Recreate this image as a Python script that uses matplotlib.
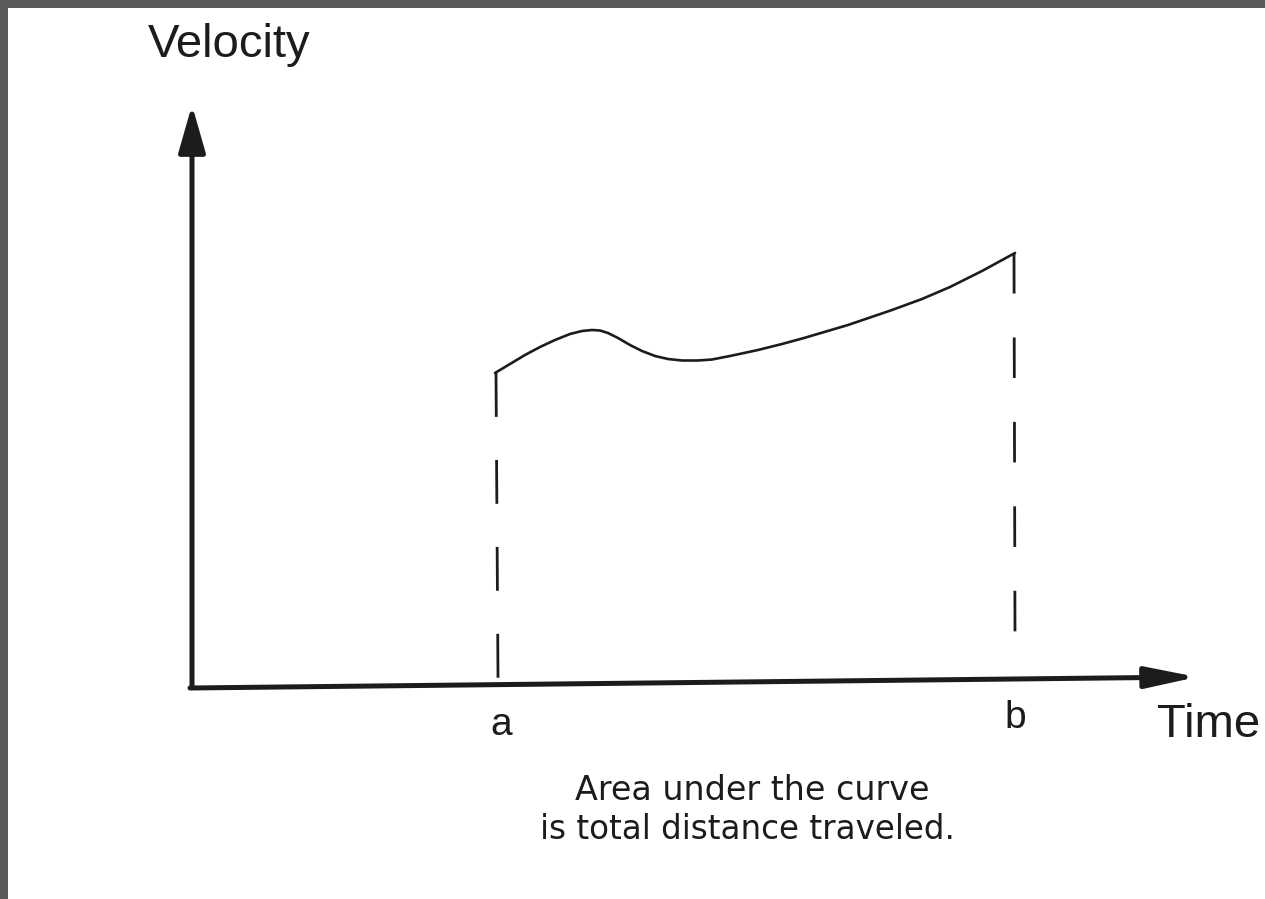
import matplotlib
matplotlib.use("Agg")
import matplotlib.pyplot as plt
from matplotlib.patches import Rectangle

# ---- data (time units / velocity units, origin at the axes corner) ----
time = [303, 318, 333, 348, 363, 378, 390, 400, 408, 416, 426, 438, 450,
        463, 476, 490, 506, 520, 538, 566, 590, 612, 656, 700, 730, 758,
        790, 823]
velocity = [315, 324, 333, 341, 348, 354, 357, 358, 357.5, 355, 350, 343,
            337, 332, 329, 327.5, 327.5, 328.5, 332, 338, 344, 350, 363, 378,
            389, 401, 417, 435]
t_a, t_b = 304, 822
v_a_end, v_b_end = 10, 50
axis_x_end = (1005, 11)
axis_y_end = (0, 583)
label_a, label_b = "a", "b"
x_label, y_label = "Time", "Velocity"
caption = ["Area under the curve", "is total distance traveled."]

ink = "#1c1c1c"
font = ["Liberation Sans", "DejaVu Sans"]

fig = plt.figure(figsize=(12.65, 8.99), dpi=100)
fig.patch.set_facecolor("white")
ax = fig.add_axes([0, 0, 1, 1])
ax.set_xlim(-192, 1073)
ax.set_ylim(-211, 688)
ax.axis("off")

# gray scan border (top and left)
fig.patches.append(Rectangle((0, 1 - 8 / 899), 1, 8 / 899, transform=fig.transFigure,
                             facecolor="#5a5a5a", edgecolor="none", zorder=10))
fig.patches.append(Rectangle((0, 0), 8 / 1265, 1, transform=fig.transFigure,
                             facecolor="#5a5a5a", edgecolor="none", zorder=10))

# axes arrows
ax.annotate("", xy=axis_y_end, xytext=(0, 0),
            arrowprops=dict(arrowstyle="-|>,head_length=29,head_width=8.3",
                            mutation_scale=1, lw=3.6, color=ink,
                            shrinkA=0, shrinkB=0, capstyle="butt"))
ax.annotate("", xy=axis_x_end, xytext=(-2, 0),
            arrowprops=dict(arrowstyle="-|>,head_length=31,head_width=6.5",
                            mutation_scale=1, lw=3.6, color=ink,
                            shrinkA=0, shrinkB=0))

# curve
ax.plot(time, velocity, color=ink, lw=1.9, solid_joinstyle="round",
        solid_capstyle="round")

# dashed drop lines
ax.plot([t_a, t_a + 2], [velocity[0], v_a_end], color=ink, lw=2.0,
        linestyle=(0, (15.8, 15.5)))
ax.plot([t_b, t_b + 1], [velocity[-1], v_b_end], color=ink, lw=2.0,
        linestyle=(0, (14.6, 15.8)))

# labels
ax.text(t_a + 5, -47, label_a, fontsize=28, family=font, color=ink,
        ha="center", va="baseline")
ax.text(t_b + 1, -40, label_b, fontsize=28, family=font, color=ink,
        ha="center", va="baseline")
ax.text(965, -49, x_label, fontsize=34, family=font, color=ink,
        ha="left", va="baseline")
ax.text(-44, 631, y_label, fontsize=34, family=font, color=ink,
        ha="left", va="baseline")
ax.text(560, -112, caption[0], fontsize=24, family=["DejaVu Sans"], color=ink,
        ha="center", va="baseline")
ax.text(555, -151, caption[1], fontsize=23.5, family=["DejaVu Sans"], color=ink,
        ha="center", va="baseline")

fig.savefig("out.png", dpi=100, facecolor="white")
